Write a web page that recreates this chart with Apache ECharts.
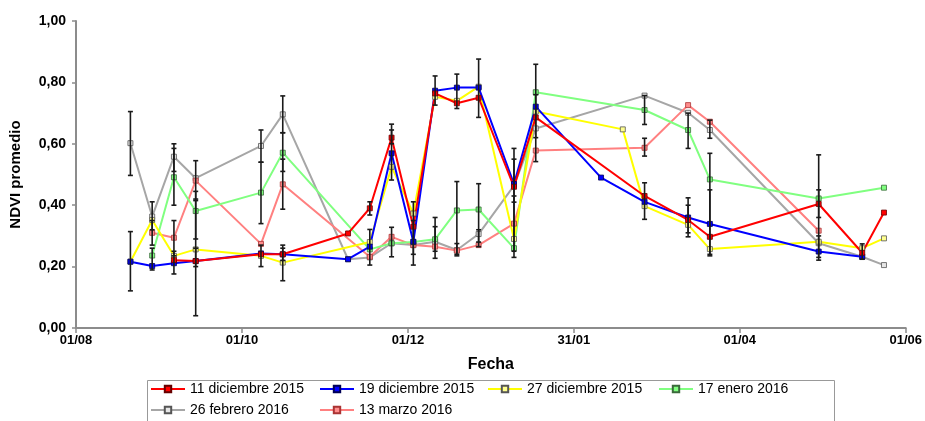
<!DOCTYPE html>
<html><head><meta charset="utf-8">
<script src="https://cdn.jsdelivr.net/npm/echarts@6/dist/echarts.min.js"></script>
<style>html,body{margin:0;padding:0;background:#fff}#c{width:925px;height:421px}</style>
</head><body><div id="c"></div>
<script>
// Observation dates
const dates = ['2015-08-21','2015-08-29','2015-09-06','2015-09-14','2015-10-08','2015-10-16','2015-11-09','2015-11-17','2015-11-25','2015-12-03','2015-12-11','2015-12-19','2015-12-27','2016-01-09','2016-01-17','2016-02-10','2016-02-18','2016-02-26','2016-03-13','2016-03-21','2016-04-30','2016-05-16','2016-05-24'];
// NDVI series (null = no observation)
const dic11 = [null,null,0.221,0.218,0.240,0.240,0.308,0.390,0.620,0.330,0.764,0.732,0.750,0.460,0.686,null,null,0.430,0.352,0.297,0.404,0.245,0.376];
const dic19 = [0.216,0.202,0.211,0.218,0.243,0.240,0.224,0.265,0.569,0.281,0.773,0.783,0.783,0.469,0.721,0.490,null,0.411,0.360,0.339,0.249,0.232,null];
const dic27 = [0.216,0.352,0.235,0.256,0.235,0.213,null,0.280,0.525,0.373,0.753,0.740,0.786,0.290,0.705,null,0.647,0.397,0.336,0.257,0.281,0.260,0.292];
const ene17 = [null,0.236,0.491,0.381,0.441,0.571,null,0.256,0.276,0.280,0.289,0.383,0.386,0.260,0.768,null,null,0.710,0.645,0.484,0.422,null,0.457];
const feb26 = [0.602,0.363,0.558,0.488,0.593,0.696,0.224,0.230,0.276,0.270,0.281,0.254,0.306,0.464,0.650,null,null,0.757,0.701,0.645,0.276,0.232,0.205];
const mar13 = [null,0.310,0.294,0.480,0.274,0.468,null,0.232,0.297,0.270,0.265,0.252,0.270,0.340,0.578,null,null,0.587,0.726,0.672,0.317,null,null];
// Error bars (date, low, high)
const errDates = ['2015-08-21','2015-08-21','2015-08-29','2015-08-29','2015-08-29','2015-09-06','2015-09-06','2015-09-06','2015-09-06','2015-09-14','2015-09-14','2015-09-14','2015-09-14','2015-10-08','2015-10-08','2015-10-08','2015-10-16','2015-10-16','2015-10-16','2015-10-16','2015-10-16','2015-11-17','2015-11-17','2015-11-25','2015-11-25','2015-11-25','2015-12-03','2015-12-03','2015-12-11','2015-12-11','2015-12-11','2015-12-19','2015-12-19','2015-12-19','2015-12-27','2015-12-27','2015-12-27','2016-01-09','2016-01-09','2016-01-09','2016-01-17','2016-01-17','2016-02-26','2016-02-26','2016-02-26','2016-03-13','2016-03-13','2016-03-13','2016-03-21','2016-03-21','2016-03-21','2016-04-30','2016-04-30','2016-04-30','2016-05-16'];
const errLow  = [0.497,0.121,0.320,0.270,0.189,0.510,0.400,0.235,0.176,0.420,0.290,0.040,0.200,0.540,0.340,0.200,0.636,0.510,0.387,0.154,0.220,0.368,0.205,0.482,0.600,0.232,0.205,0.240,0.726,0.227,0.250,0.715,0.235,0.240,0.686,0.265,0.280,0.230,0.250,0.410,0.542,0.620,0.663,0.560,0.354,0.585,0.297,0.310,0.618,0.235,0.240,0.221,0.360,0.230,0.224];
const errHigh = [0.705,0.314,0.411,0.350,0.260,0.600,0.585,0.350,0.250,0.545,0.445,0.415,0.260,0.645,0.540,0.270,0.756,0.636,0.550,0.270,0.260,0.411,0.321,0.664,0.645,0.328,0.411,0.350,0.821,0.360,0.330,0.827,0.477,0.275,0.876,0.470,0.320,0.585,0.430,0.550,0.859,0.760,0.757,0.618,0.473,0.700,0.424,0.400,0.677,0.569,0.450,0.564,0.450,0.300,0.274];
// Axis tick labels
const xTicks = ['01/08','01/10','01/12','31/01','01/04','01/06'];
const yTicks = ['0,00','0,20','0,40','0,60','0,80','1,00'];

const origin = Date.UTC(2015,7,1);
function dayOf(s){const p=s.split('-').map(Number);return (Date.UTC(p[0],p[1]-1,p[2])-origin)/86400000;}
function pairs(vals){const out=[];vals.forEach((v,i)=>{if(v!=null)out.push([dayOf(dates[i]),v]);});return out;}

const defs = [
  {name:'26 febrero 2016', vals:feb26, line:'#a6a6a6', fill:'#e6e6e6', border:'#555'},
  {name:'13 marzo 2016', vals:mar13, line:'#ff8080', fill:'#ff8c8c', border:'#a33'},
  {name:'17 enero 2016', vals:ene17, line:'#80ff80', fill:'#80ff80', border:'#3a6a3a'},
  {name:'27 diciembre 2015', vals:dic27, line:'#ffff00', fill:'#ffff90', border:'#555'},
  {name:'19 diciembre 2015', vals:dic19, line:'#0000ff', fill:'#0000ff', border:'#000055'},
  {name:'11 diciembre 2015', vals:dic11, line:'#ff0000', fill:'#ff0000', border:'#660000'}
];
const series = defs.map(d=>({
  name:d.name, type:'line', data:pairs(d.vals), symbol:'rect', symbolSize:5,
  lineStyle:{color:d.line,width:2}, itemStyle:{color:d.fill,borderColor:d.border,borderWidth:0.8},
  emphasis:{disabled:true}, z:2
}));
series.push({
  type:'custom', z:3, silent:true,
  data: errDates.map((d,i)=>[dayOf(d),errLow[i],errHigh[i]]),
  renderItem:function(params,api){
    const x=api.value(0),lo=api.value(1),hi=api.value(2);
    const p1=api.coord([x,hi]),p2=api.coord([x,lo]);
    const c=2.5, st={stroke:'#1a1a1a',lineWidth:1.6};
    return {type:'group',children:[
      {type:'line',shape:{x1:p1[0],y1:p1[1],x2:p2[0],y2:p2[1]},style:st},
      {type:'line',shape:{x1:p1[0]-c,y1:p1[1],x2:p1[0]+c,y2:p1[1]},style:st},
      {type:'line',shape:{x1:p2[0]-c,y1:p2[1],x2:p2[0]+c,y2:p2[1]},style:st}
    ]};
  }
});

function leg(name,left,top){
  return {data:[name],left:left,top:top,padding:0,itemWidth:34,itemHeight:8,
    textStyle:{fontFamily:'Liberation Sans, Arial',fontSize:14,color:'#000'},selectedMode:false};
}

const chart = echarts.init(document.getElementById('c'),null,{renderer:'canvas'});
chart.setOption({
  backgroundColor:'#fff',
  animation:false,
  grid:{left:72,right:14,top:21,bottom:93},
  xAxis:{type:'value',min:0,max:305,interval:61,
    name:'Fecha',nameLocation:'middle',nameGap:29,
    nameTextStyle:{fontFamily:'Liberation Sans, Arial',fontWeight:'bold',fontSize:16,color:'#000'},
    axisLine:{lineStyle:{color:'#8c8c8c',width:2}},
    axisTick:{length:5,lineStyle:{color:'#8c8c8c',width:1.5}},
    axisLabel:{margin:6,fontFamily:'Liberation Sans, Arial',fontWeight:'bold',fontSize:13,color:'#000',
      formatter:v=>xTicks[Math.round(v/61)]},
    splitLine:{show:false}},
  yAxis:{type:'value',min:0,max:1,interval:0.2,offset:5,
    name:'NDVI promedio',nameLocation:'middle',nameGap:48,
    nameTextStyle:{fontFamily:'Liberation Sans, Arial',fontWeight:'bold',fontSize:15,color:'#000'},
    axisLine:{show:true,lineStyle:{color:'#8c8c8c',width:2}},
    axisTick:{show:true,length:4,lineStyle:{color:'#8c8c8c',width:1.5}},
    axisLabel:{margin:5,fontFamily:'Liberation Sans, Arial',fontWeight:'bold',fontSize:14,color:'#000',
      formatter:v=>yTicks[Math.round(v/0.2)]},
    splitLine:{show:false}},
  legend:[
    leg('11 diciembre 2015',150,382), leg('19 diciembre 2015',319,382),
    leg('27 diciembre 2015',487,382), leg('17 enero 2016',658,382),
    leg('26 febrero 2016',150,403), leg('13 marzo 2016',319,403)
  ],
  graphic:[{type:'rect',shape:{x:147.5,y:380.5,width:687,height:50},
    style:{fill:'none',stroke:'#999',lineWidth:1},z:-1}],
  series:series
});
</script>
</body></html>
